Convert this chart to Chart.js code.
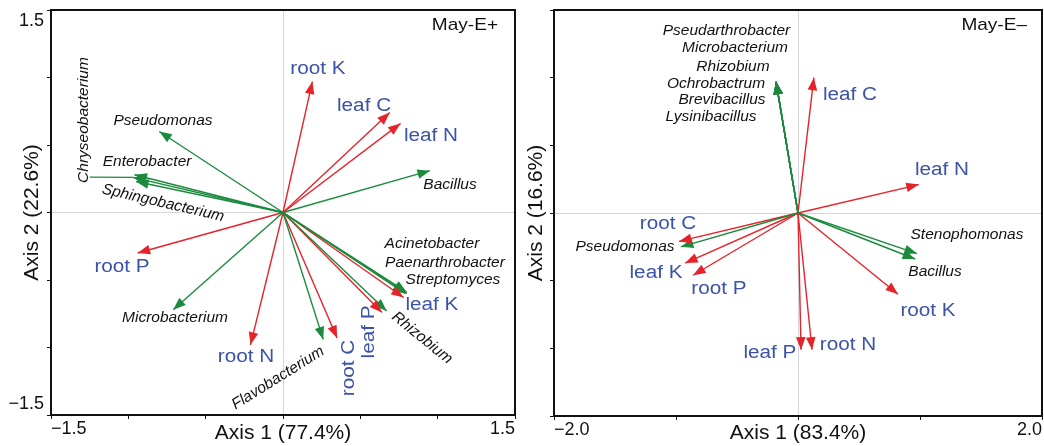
<!DOCTYPE html>
<html>
<head>
<meta charset="utf-8">
<script src="https://cdn.jsdelivr.net/npm/chart.js@4.4.1/dist/chart.umd.min.js"></script>
<style>
  html, body { margin: 0; padding: 0; background: #fff; }
  #wrapL { position: absolute; left: 0; top: 0; width: 520px; height: 446px; }
  #wrapR { position: absolute; left: 520px; top: 0; width: 524px; height: 446px; }
</style>
</head>
<body>
<div id="wrapL"><canvas id="chartL" width="520" height="446"></canvas></div>
<div id="wrapR"><canvas id="chartR" width="524" height="446"></canvas></div>
<script>
// ---- May-E+ (left panel) ----
var envLeftNames = ['root K', 'leaf C', 'leaf N', 'root P', 'root N', 'root C', 'leaf P', 'leaf K'];
var envLeftX = [0.19, 0.69, 0.76, -0.94, -0.21, 0.35, 0.64, 0.78];
var envLeftY = [0.97, 0.74, 0.66, -0.30, -0.98, -0.93, -0.74, -0.63];

var taxaLeftNames = ['Bacillus', 'Pseudomonas', 'Enterobacter', 'Chryseobacterium', 'Sphingobacterium',
  'Microbacterium', 'Flavobacterium', 'Rhizobium', 'Acinetobacter', 'Paenarthrobacter', 'Streptomyces'];
var taxaLeftX = [0.95, -0.80, -0.96, -0.97, -0.95, -0.71, 0.26, 0.67, 0.80, 0.80, 0.79];
var taxaLeftY = [0.31, 0.60, 0.28, 0.26, 0.23, -0.72, -0.94, -0.73, -0.59, -0.60, -0.60];

// ---- May-E– (right panel) ----
var envRightNames = ['leaf C', 'leaf N', 'root K', 'root N', 'leaf P', 'root C', 'leaf K', 'root P'];
var envRightX = [0.13, 0.99, 0.82, 0.115, 0.025, -0.975, -0.925, -0.86];
var envRightY = [1.00, 0.21, -0.60, -1.01, -1.01, -0.21, -0.37, -0.46];

var taxaRightNames = ['Pseudarthrobacter', 'Microbacterium', 'Rhizobium', 'Ochrobactrum', 'Brevibacillus',
  'Lysinibacillus', 'Stenophomonas', 'Bacillus', 'Pseudomonas'];
var taxaRightX = [-0.18, -0.18, -0.18, -0.18, -0.18, -0.18, 0.975, 0.96, -0.96];
var taxaRightY = [0.97, 0.97, 0.97, 0.97, 0.97, 0.97, -0.30, -0.34, -0.25];

// tick labels (only the axis ends are labelled)
var leftTickValues = [-1.5, 1.5];
var leftTickLabels = ['\u22121.5', '1.5'];
var rightTickValues = [-2, 2];
var rightTickLabels = ['\u22122.0', '2.0'];

// label anchors (axis units) and rotation in degrees
var envLeftLabelX = [0.226, 0.524, 0.957, -1.041, -0.239, 0.427, 0.556, 0.963];
var envLeftLabelY = [1.063, 0.789, 0.567, -0.404, -1.070, -1.152, -0.885, -0.685];
var envLeftLabelRot = [0, 0, 0, 0, 0, -90, -90, 0];
var taxaLeftLabelX = [1.080, -0.776, -0.879, -1.287, -0.776, -0.698, -0.032, 0.899, 0.963, 1.047, 1.099];
var taxaLeftLabelY = [0.204, 0.678, 0.374, 0.685, 0.070, -0.781, -1.226, -0.930, -0.233, -0.374, -0.500];
var taxaLeftLabelRot = [0, 0, 0, -90, 13, 0, -32, 39, 0, 0, 0];

var envRightLabelX = [0.426, 1.180, 1.066, 0.410, -0.230, -1.066, -1.164, -0.648];
var envRightLabelY = [0.872, 0.318, -0.724, -0.976, -1.035, -0.081, -0.443, -0.562];
var taxaRightLabelX = [-0.586, -0.516, -0.533, -0.672, -0.623, -0.713, 1.385, 1.123, -1.418];
var taxaRightLabelY = [1.345, 1.220, 1.079, 0.953, 0.835, 0.710, -0.163, -0.436, -0.251];

var RED = '#e5232a', GREEN = '#1b8a3d', BLUE = '#3c52a6';
var FONT = "'Liberation Sans', Arial, Helvetica, sans-serif";

function arrowSets(names, xs, ys, color) {
  return names.map(function (n, i) {
    return {
      label: n,
      data: [{ x: 0, y: 0 }, { x: xs[i], y: ys[i] }],
      showLine: true,
      borderColor: color,
      backgroundColor: color,
      borderWidth: 1.4,
      pointRadius: 0,
      pointHoverRadius: 0
    };
  });
}

function labelItems(names, xs, ys, rots, kind) {
  return names.map(function (n, i) {
    return { text: n, x: xs[i], y: ys[i], rot: rots ? rots[i] : 0, kind: kind };
  });
}

// arrow heads at the end of every dataset line
var arrowHeads = {
  id: 'arrowHeads',
  afterDatasetsDraw: function (chart) {
    var ctx = chart.ctx;
    chart.data.datasets.forEach(function (ds, i) {
      var pts = chart.getDatasetMeta(i).data;
      var a = pts[0], b = pts[1];
      var ang = Math.atan2(b.y - a.y, b.x - a.x);
      ctx.save();
      ctx.translate(b.x, b.y);
      ctx.rotate(ang);
      ctx.beginPath();
      ctx.moveTo(0, 0);
      ctx.lineTo(-12.5, -4.8);
      ctx.lineTo(-12.5, 4.8);
      ctx.closePath();
      ctx.fillStyle = ds.borderColor;
      ctx.fill();
      ctx.restore();
    });
  }
};

// variable / genus names, panel tag and frame
var biplotText = {
  id: 'biplotText',
  afterDatasetsDraw: function (chart, args, opts) {
    var ctx = chart.ctx, sx = chart.scales.x, sy = chart.scales.y, area = chart.chartArea;
    (opts.leaders || []).forEach(function (l) {
      ctx.save();
      ctx.strokeStyle = GREEN;
      ctx.lineWidth = 1.4;
      ctx.beginPath();
      ctx.moveTo(sx.getPixelForValue(l.x0), sy.getPixelForValue(l.y0));
      ctx.lineTo(sx.getPixelForValue(l.x1), sy.getPixelForValue(l.y1));
      ctx.stroke();
      ctx.restore();
    });
    opts.items.forEach(function (it) {
      var env = it.kind === 'env';
      ctx.save();
      ctx.translate(sx.getPixelForValue(it.x), sy.getPixelForValue(it.y));
      ctx.rotate(it.rot * Math.PI / 180);
      ctx.scale(env ? 1.15 : 1, 1);
      ctx.font = env ? '18px ' + FONT : 'italic 15.5px ' + FONT;
      ctx.fillStyle = env ? BLUE : '#111';
      ctx.textAlign = 'center';
      ctx.textBaseline = 'middle';
      ctx.fillText(it.text, 0, 0);
      ctx.restore();
    });
    ctx.save();
    ctx.translate(area.right - opts.tagInset, area.top + 15);
    ctx.scale(1.12, 1);
    ctx.font = '17px ' + FONT;
    ctx.fillStyle = '#111';
    ctx.textAlign = 'right';
    ctx.textBaseline = 'middle';
    ctx.fillText(opts.tag, 0, 0);
    ctx.restore();
    ctx.save();
    ctx.strokeStyle = '#111';
    ctx.lineWidth = 2;
    ctx.strokeRect(area.left, area.top, area.right - area.left, area.bottom - area.top);
    ctx.restore();
  }
};

function gridOpts() {
  return {
    color: function (c) { return c.tick && c.tick.value === 0 ? '#d6d6d6' : 'rgba(0,0,0,0)'; },
    tickColor: '#111',
    tickLength: 4,
    lineWidth: 1
  };
}

function makeConfig(p) {
  return {
    type: 'scatter',
    data: { datasets: p.datasets },
    options: {
      responsive: false,
      animation: false,
      events: [],
      layout: { padding: { top: 10, right: p.padRight, left: 0, bottom: 0 } },
      plugins: {
        legend: { display: false },
        tooltip: { enabled: false },
        biplotText: { items: p.labels, leaders: p.leaders, tag: p.tag, tagInset: p.tagInset }
      },
      scales: {
        x: {
          type: 'linear',
          min: p.xmin, max: p.xmax,
          grid: gridOpts(),
          border: { display: false },
          ticks: {
            stepSize: p.xstep, autoSkip: false, maxRotation: 0, align: 'inner', padding: -1,
            color: '#111', font: { family: FONT, size: 18 },
            callback: function (v) {
              var k = p.tickValues.indexOf(v);
              return k >= 0 ? p.tickLabels[k] : '';
            }
          },
          title: { display: true, text: p.xtitle, color: '#111', font: { family: FONT, size: 21 }, padding: { top: 0, bottom: 0 } },
          afterFit: function (s) { s.height = p.xHeight; s.paddingLeft = 0; s.paddingRight = 0; }
        },
        y: {
          type: 'linear',
          min: -1.5, max: 1.5,
          grid: gridOpts(),
          border: { display: false },
          ticks: {
            stepSize: 0.5, autoSkip: false, padding: 3,
            color: '#111', font: { family: FONT, size: 18, lineHeight: 1.25 },
            callback: function (v) {
              if (!p.yLabels) return '';
              if (v === 1.5) return ['', '1.5'];
              if (v === -1.5) return ['\u22121.5', ''];
              return '';
            }
          },
          title: { display: true, text: p.ytitle, color: '#111', font: { family: FONT, size: 21 }, padding: { top: p.yTitlePad, bottom: 0 } },
          afterFit: function (s) { s.width = p.yWidth; s.paddingTop = 0; s.paddingBottom = 0; }
        }
      }
    },
    plugins: [arrowHeads, biplotText]
  };
}

new Chart(document.getElementById('chartL').getContext('2d'), makeConfig({
  datasets: arrowSets(taxaLeftNames, taxaLeftX, taxaLeftY, GREEN)
    .concat(arrowSets(envLeftNames, envLeftX, envLeftY, RED)),
  labels: labelItems(envLeftNames, envLeftLabelX, envLeftLabelY, envLeftLabelRot, 'env')
    .concat(labelItems(taxaLeftNames, taxaLeftLabelX, taxaLeftLabelY, taxaLeftLabelRot, 'taxa')),
  leaders: [{ x0: taxaLeftX[3], y0: taxaLeftY[3], x1: -1.25, y1: 0.262 }],
  tag: 'May-E+', tagInset: 17,
  xmin: -1.5, xmax: 1.5, xstep: 0.5,
  tickValues: leftTickValues, tickLabels: leftTickLabels, yLabels: true,
  xtitle: 'Axis 1 (77.4%)', ytitle: 'Axis 2 (22.6%)',
  padRight: 5, xHeight: 31, yWidth: 51, yTitlePad: 20
}));

new Chart(document.getElementById('chartR').getContext('2d'), makeConfig({
  datasets: arrowSets(taxaRightNames, taxaRightX, taxaRightY, GREEN)
    .concat(arrowSets(envRightNames, envRightX, envRightY, RED)),
  labels: labelItems(envRightNames, envRightLabelX, envRightLabelY, null, 'env')
    .concat(labelItems(taxaRightNames, taxaRightLabelX, taxaRightLabelY, null, 'taxa')),
  leaders: [],
  tag: 'May-E\u2013', tagInset: 15,
  xmin: -2, xmax: 2, xstep: 1,
  tickValues: rightTickValues, tickLabels: rightTickLabels, yLabels: false,
  xtitle: 'Axis 1 (83.4%)', ytitle: 'Axis 2 (16.6%)',
  padRight: 2, xHeight: 30, yWidth: 34, yTitlePad: 4
}));
</script>
</body>
</html>
